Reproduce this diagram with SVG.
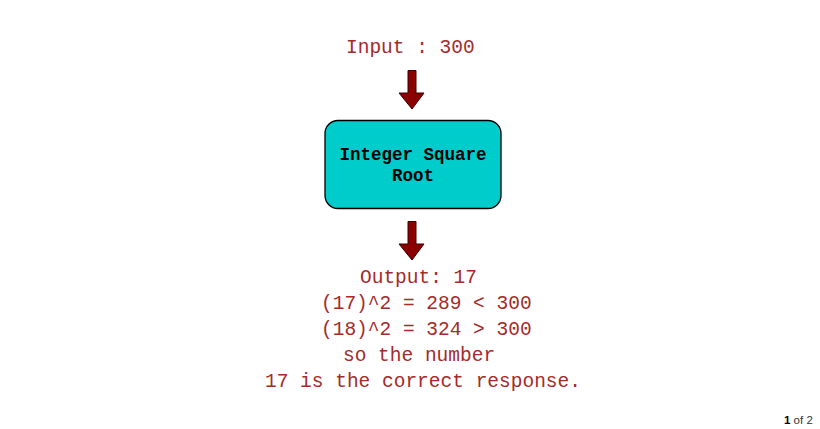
<svg xmlns="http://www.w3.org/2000/svg" width="820" height="429" viewBox="0 0 820 429">
<style>
.t{font-family:"Liberation Mono","Courier New",monospace;font-size:19.5px;fill:#a52a2a}
.b{font-family:"Liberation Mono","Courier New",monospace;font-size:17.5px;font-weight:bold;fill:#000;text-anchor:middle}
.arr{fill:#8b0000;stroke:#3a0000;stroke-width:1}
</style>
<rect width="820" height="429" fill="#fff"/>
<g id="input"><text class="t" x="346" y="53">Input : 300</text></g>
<g id="connectors">
<path class="arr" d="M408,70.5 H416 V93 H424 L412,109 L399,93 H408 Z"/>
<path class="arr" d="M408,221.5 H416 V244 H424 L412,260 L399,244 H408 Z"/>
</g>
<g id="isqrt">
<rect x="325" y="120.5" width="176" height="88" rx="13" ry="13" fill="#00cccc" stroke="#000" stroke-width="1.3"/>
<text class="b" x="413" y="160">Integer Square</text>
<text class="b" x="413" y="181">Root</text>
</g>
<g id="output">
<text class="t" x="360" y="283">Output: 17</text>
<text class="t" x="321" y="309">(17)^2 = 289 &lt; 300</text>
<text class="t" x="321" y="335">(18)^2 = 324 &gt; 300</text>
<text class="t" x="343" y="361">so the number</text>
<text class="t" x="265" y="387">17 is the correct response.</text>
</g>
<g id="pager"><text x="784" y="424" style="font-family:'Liberation Sans',Arial,sans-serif;font-size:11.5px;fill:#333"><tspan font-weight="bold" fill="#000">1</tspan> of 2</text></g>
</svg>
